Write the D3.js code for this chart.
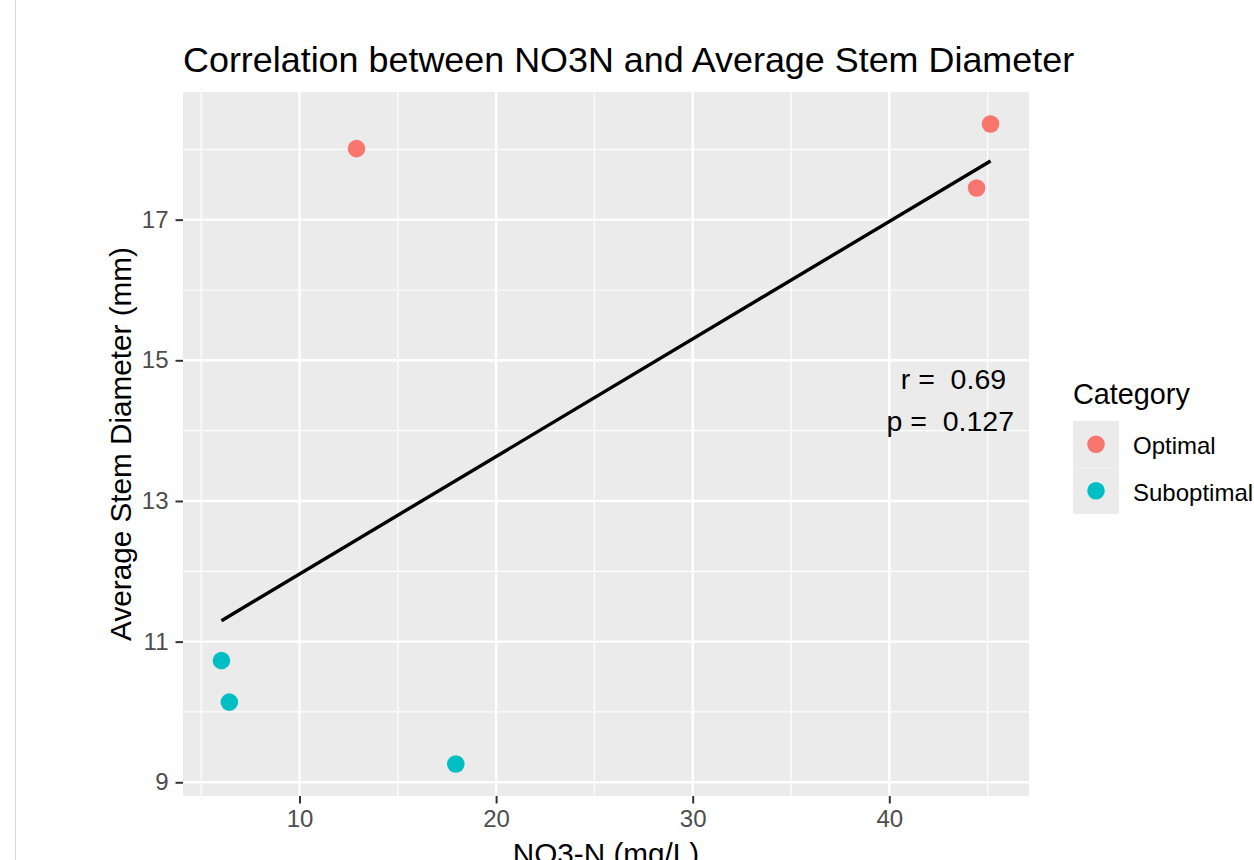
<!DOCTYPE html>
<html><head><meta charset="utf-8">
<script src="https://cdn.jsdelivr.net/npm/d3@7"></script>
<style>
html,body{margin:0;padding:0;background:#fff;overflow:hidden;}
text{font-family:"Liberation Sans",Arial,sans-serif;}
</style></head>
<body><svg id="c" width="1254" height="860"></svg>
<script>
// Data
const categories = ["Optimal", "Suboptimal"];
const colors = ["#F8766D", "#00BFC4"];
const no3n = [12.9, 45.15, 44.44, 6.03, 6.43, 17.95];
const stemDiameter = [18.01, 18.36, 17.45, 10.73, 10.14, 9.26];
const pointCategory = ["Optimal", "Optimal", "Optimal", "Suboptimal", "Suboptimal", "Suboptimal"];
const xMajorTicks = [10, 20, 30, 40];
const xMinorTicks = [5, 15, 25, 35, 45];
const yMajorTicks = [9, 11, 13, 15, 17];
const yMinorTicks = [10, 12, 14, 16, 18];
const statLines = ["r =  0.69 ", "p =  0.127"];

const svg = d3.select("#c");
const L = 183, R = 1029, T = 92, B = 796;

// left border line (viewer frame)
svg.append("line").attr("x1", 15.5).attr("x2", 15.5).attr("y1", 0).attr("y2", 860)
  .attr("stroke", "#d9d9d9").attr("stroke-width", 1);

const pts = no3n.map((x, i) => ({x, y: stemDiameter[i], c: pointCategory[i]}));
const xr = d3.extent(no3n), yr = d3.extent(stemDiameter);
const xe = (xr[1] - xr[0]) * 0.05, ye = (yr[1] - yr[0]) * 0.05;
const x = d3.scaleLinear().domain([xr[0] - xe, xr[1] + xe]).range([L, R]);
const y = d3.scaleLinear().domain([yr[0] - ye, yr[1] + ye]).range([B, T]);
const col = d3.scaleOrdinal().domain(categories).range(colors);

svg.append("rect").attr("x", L).attr("y", T).attr("width", R - L).attr("height", B - T).attr("fill", "#EBEBEB");

const g = svg.append("g");
g.selectAll(".xmin").data(xMinorTicks).join("line")
  .attr("x1", d => x(d)).attr("x2", d => x(d)).attr("y1", T).attr("y2", B)
  .attr("stroke", "#fff").attr("stroke-width", 1.2);
g.selectAll(".ymin").data(yMinorTicks).join("line")
  .attr("y1", d => y(d)).attr("y2", d => y(d)).attr("x1", L).attr("x2", R)
  .attr("stroke", "#fff").attr("stroke-width", 1.2);
g.selectAll(".xmaj").data(xMajorTicks).join("line")
  .attr("x1", d => x(d)).attr("x2", d => x(d)).attr("y1", T).attr("y2", B)
  .attr("stroke", "#fff").attr("stroke-width", 2.4);
g.selectAll(".ymaj").data(yMajorTicks).join("line")
  .attr("y1", d => y(d)).attr("y2", d => y(d)).attr("x1", L).attr("x2", R)
  .attr("stroke", "#fff").attr("stroke-width", 2.4);

// axes
const xAxis = svg.append("g").attr("transform", `translate(0,${B})`)
  .call(d3.axisBottom(x).tickValues(xMajorTicks).tickSize(7.5).tickPadding(6));
const yAxis = svg.append("g").attr("transform", `translate(${L},0)`)
  .call(d3.axisLeft(y).tickValues(yMajorTicks).tickSize(7.5).tickPadding(7));
[xAxis, yAxis].forEach(a => {
  a.select(".domain").remove();
  a.selectAll(".tick line").attr("stroke", "#333").attr("stroke-width", 2);
  a.selectAll(".tick text").attr("fill", "#4D4D4D").style("font-size", "24px")
    .style("font-family", '"Liberation Sans",Arial,sans-serif');
});
xAxis.selectAll(".tick text").attr("dy", "0.71em");

// regression line (least squares fit of the data)
const mx = d3.mean(no3n), my = d3.mean(stemDiameter);
const sxy = d3.sum(pts, p => (p.x - mx) * (p.y - my));
const sxx = d3.sum(pts, p => (p.x - mx) ** 2);
const slope = sxy / sxx, icpt = my - slope * mx;
svg.append("path")
  .datum(xr)
  .attr("d", d3.line().x(d => x(d)).y(d => y(icpt + slope * d)))
  .attr("stroke", "#000").attr("stroke-width", 3.4).attr("stroke-linecap", "butt").attr("fill", "none");

// points
svg.selectAll(".pt").data(pts).join("circle")
  .attr("cx", d => x(d.x)).attr("cy", d => y(d.y)).attr("r", 8.8)
  .attr("fill", d => col(d.c));

// stats annotation
svg.selectAll(".stat").data(statLines).join("text")
  .attr("x", 1014).attr("y", (d, i) => 389 + i * 42)
  .attr("text-anchor", "end").attr("fill", "#000")
  .style("font-size", "28.5px").style("white-space", "pre").attr("xml:space", "preserve")
  .text(d => d);

// title
svg.append("text").attr("x", L).attr("y", 72).attr("fill", "#000")
  .style("font-size", "35.9px").text("Correlation between NO3N and Average Stem Diameter");

// axis titles
svg.append("text").attr("x", (L + R) / 2).attr("y", 864).attr("text-anchor", "middle")
  .attr("fill", "#000").style("font-size", "29.7px").text("NO3-N (mg/L)");
svg.append("text").attr("transform", `translate(131,${(T + B) / 2}) rotate(-90)`)
  .attr("text-anchor", "middle").attr("fill", "#000").style("font-size", "29.7px")
  .text("Average Stem Diameter (mm)");

// legend
const lg = svg.append("g");
lg.append("text").attr("x", 1073).attr("y", 404).attr("fill", "#000")
  .style("font-size", "28.8px").text("Category");
const keyH = 46.5, keyTop = 421;
lg.selectAll(".key").data(categories).join("rect")
  .attr("x", 1073).attr("y", (d, i) => keyTop + i * keyH).attr("width", 46).attr("height", keyH)
  .attr("fill", "#EBEBEB");
lg.selectAll(".kpt").data(categories).join("circle")
  .attr("cx", 1096).attr("cy", (d, i) => keyTop + i * keyH + keyH / 2).attr("r", 8.8)
  .attr("fill", d => col(d));
lg.selectAll(".ktx").data(categories).join("text")
  .attr("x", 1133).attr("y", (d, i) => keyTop + i * keyH + keyH / 2 + 10)
  .attr("fill", "#000").style("font-size", "24px").text(d => d);
</script>
</body></html>
